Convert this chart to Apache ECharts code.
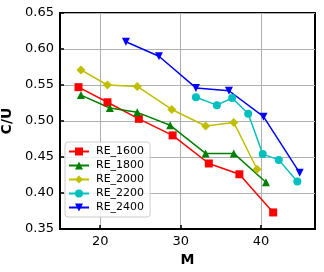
<!DOCTYPE html>
<html><head><meta charset="utf-8">
<script src="https://cdn.jsdelivr.net/npm/echarts@6/dist/echarts.min.js"></script>
<style>html,body{margin:0;padding:0;background:#fff}#c{width:324px;height:272px}</style>
</head><body><div id="c"></div>
<script>
const seriesNames = ['RE_1600','RE_1800','RE_2000','RE_2200','RE_2400'];
const x1600 = [17.3, 20.9, 24.8, 29.0, 33.5, 37.3, 41.5];
const y1600 = [0.547, 0.526, 0.503, 0.480, 0.441, 0.426, 0.373];
const x1800 = [17.6, 21.2, 24.6, 28.7, 33.1, 36.6, 40.6];
const y1800 = [0.536, 0.518, 0.512, 0.494, 0.455, 0.455, 0.415];
const x2000 = [17.6, 20.9, 24.6, 28.9, 33.1, 36.6, 39.5];
const y2000 = [0.571, 0.550, 0.548, 0.516, 0.493, 0.498, 0.433];
const x2200 = [31.9, 34.5, 36.4, 38.4, 40.2, 42.2, 44.5];
const y2200 = [0.533, 0.522, 0.532, 0.510, 0.454, 0.446, 0.416];
const x2400 = [23.2, 27.3, 31.9, 36.0, 40.3, 44.8];
const y2400 = [0.610, 0.590, 0.546, 0.542, 0.506, 0.428];
const xTicks = [20, 30, 40];
const yTicks = [0.35, 0.40, 0.45, 0.50, 0.55, 0.60, 0.65];

const xs = [x1600, x1800, x2000, x2200, x2400];
const ys = [y1600, y1800, y2000, y2200, y2400];
const colors = ['#ff0000', '#008000', '#bfbf00', '#00bfbf', '#0000ff'];
const symbols = ['rect', 'triangle', 'diamond', 'circle', 'triangle'];
const rot = [0, 0, 0, 0, 180];
const sizes = [8, 8, 9, 8, 8];

const chart = echarts.init(document.getElementById('c'), null, {renderer: 'canvas'});
const font = 'DejaVu Sans';
chart.setOption({
  animation: false,
  grid: {left: 60, right: 9, top: 13, bottom: 43, show: true, borderColor: '#000', borderWidth: 2, backgroundColor: 'transparent', containLabel: false, outerBoundsMode: 'none'},
  legend: {
    orient: 'vertical', left: 65, top: 142, itemWidth: 20, itemHeight: 10, itemGap: 3,
    padding: [4, 6, 4, 3],
    backgroundColor: 'rgba(255,255,255,0.8)', borderColor: '#cccccc', borderWidth: 1, borderRadius: 3,
    textStyle: {fontFamily: font, fontSize: 11, color: '#000', padding: [0,0,0,2]},
    data: seriesNames
  },
  xAxis: {
    type: 'value', min: 15, max: 46.7,
    name: 'M', nameLocation: 'middle', nameGap: 20,
    nameTextStyle: {fontFamily: font, fontSize: 14, fontWeight: 'bold', color: '#000'},
    axisLine: {show: true, lineStyle: {color: '#000', width: 2}},
    axisTick: {show: true, inside: true, length: 4, lineStyle: {color: '#000', width: 1.5}, customValues: xTicks},
    axisLabel: {fontFamily: font, fontSize: 13, color: '#000', margin: 6, customValues: xTicks},
    splitLine: {show: true, lineStyle: {color: '#b0b0b0', width: 1}}
  },
  yAxis: {
    type: 'value', min: 0.35, max: 0.65, interval: 0.05,
    name: 'C/U', nameLocation: 'middle', nameGap: 36,
    nameTextStyle: {fontFamily: font, fontSize: 14, fontWeight: 'bold', color: '#000'},
    axisLine: {show: true, lineStyle: {color: '#000', width: 2}},
    axisTick: {show: true, inside: true, length: 4, lineStyle: {color: '#000', width: 1.5}},
    axisLabel: {fontFamily: font, fontSize: 13, color: '#000', margin: 6, formatter: v => v.toFixed(2)},
    splitLine: {show: true, lineStyle: {color: '#b0b0b0', width: 1}}
  },
  series: seriesNames.map((n, i) => ({
    name: n, type: 'line',
    data: xs[i].map((x, j) => [x, ys[i][j]]),
    symbol: symbols[i], symbolSize: sizes[i], symbolRotate: rot[i], showAllSymbol: true,
    itemStyle: {color: colors[i]},
    lineStyle: {color: colors[i], width: 1.5}
  }))
});
</script></body></html>
